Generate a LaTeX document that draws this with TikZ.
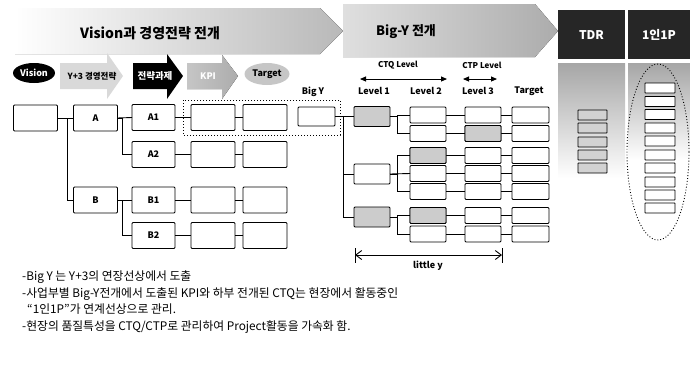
\documentclass[tikz,border=0pt]{standalone}
\usepackage{fontspec}
\setmainfont{Noto Sans CJK KR}
\usetikzlibrary{shapes.geometric,arrows.meta,calc}
\begin{document}
\begin{tikzpicture}[x=1pt,y=-1pt,
 bx/.style={draw,line width=0.9pt,rounded corners=1pt,minimum width=44pt,minimum height=26pt,inner sep=0pt,outer sep=0pt,fill=white,font=\bfseries\fontsize{9}{10}\selectfont},
 lv/.style={bx,minimum width=36pt,minimum height=16pt},
 l1/.style={bx,minimum width=36pt,minimum height=20pt},
 sh/.style={fill=gray!40},
 tb/.style={draw,line width=0.8pt,rounded corners=0.5pt,minimum width=29pt,minimum height=10pt,inner sep=0pt,fill=gray!35},
 pb/.style={draw,line width=0.8pt,rounded corners=0.5pt,minimum width=30pt,minimum height=10pt,inner sep=0pt,fill=white},
 ln/.style={line width=0.9pt},
 hd/.style={font=\bfseries\fontsize{9}{10}\selectfont,inner sep=0pt},
 bt/.style={anchor=base west,inner sep=0pt,font=\fontsize{11.8}{13}\selectfont},
]
\useasboundingbox (0,0) rectangle (690,365);

% banners
\fill[left color=white,right color=gray!55] (15,8) -- (320,8) -- (343,31) -- (320,54) -- (15,54) -- cycle;
\fill[left color=gray!25,right color=gray!65] (343,4) -- (535,4) -- (558,31) -- (535,57) -- (343,57) -- cycle;
\node[font=\bfseries\fontsize{14}{16}\selectfont] (ban1) at (150,33) {Vision과 경영전략 전개};
\node[font=\bfseries\fontsize{13}{15}\selectfont] (ban2) at (406,32) {Big-Y 전개};

% TDR / 1인1P columns
\fill[top color=gray!70,bottom color=white] (558,63) rectangle (625,178);
\fill[top color=gray!70,bottom color=white] (628,63) rectangle (690,160);
\fill[black!85] (558,10) rectangle (625,59);
\fill[black!85] (628,10) rectangle (690,59);
\node[font=\bfseries\fontsize{12}{13}\selectfont,text=white] (tdr) at (591.5,35) {TDR};
\node[font=\bfseries\fontsize{12}{13}\selectfont,text=white] (ip) at (659,35) {1인1P};
\draw[dotted,line width=0.9pt] (658,152) ellipse [x radius=31,y radius=88];
\foreach \i/\yy in {1/115,2/128,3/142,4/155,5/168}{\node[tb] (td\i) at (592.5,\yy) {};}
\foreach \i/\yy in {1/88,2/101.5,3/114.5,4/128,5/141,6/155,7/168,8/182,9/195,10/208}{\node[pb] (pp\i) at (660,\yy) {};}

% top process arrows
\node[ellipse,fill=black,minimum width=42pt,minimum height=20pt,inner sep=0pt,text=white,font=\bfseries\fontsize{9}{10}\selectfont] (vis) at (34,73) {Vision};
\fill[gray!30] (60,63) -- (107,63) -- (107,53) -- (123,76) -- (107,99) -- (107,89) -- (60,89) -- cycle;
\node[font=\bfseries\fontsize{8.5}{9}\selectfont] (y3) at (92,76) {Y+3 경영전략};
\fill[black] (133,63) -- (167,63) -- (167,54) -- (183,76) -- (167,99) -- (167,89) -- (133,89) -- cycle;
\node[font=\bfseries\fontsize{9.5}{10}\selectfont,text=white] (jg) at (155,76) {전략과제};
\fill[left color=gray!45,right color=gray!65] (187,63) -- (222,63) -- (222,55) -- (238,76) -- (222,99) -- (222,89) -- (187,89) -- cycle;
\node[font=\bfseries\fontsize{9}{10}\selectfont,text=white] (kpi) at (208,76) {KPI};
\node[ellipse,fill=gray!45,minimum width=45pt,minimum height=22pt,inner sep=0pt,font=\bfseries\fontsize{9}{10}\selectfont] (tg) at (267,74) {Target};

% headers
\node[hd] (hby) at (313,92) {Big Y};
\node[hd] (hl1) at (374,91) {Level 1};
\node[hd] (hl2) at (426,91) {Level 2};
\node[hd] (hl3) at (478,91) {Level 3};
\node[hd] (htg) at (529,91) {Target};
\node[hd,font=\bfseries\fontsize{8}{9}\selectfont] (ctq) at (398,65) {CTQ Level};
\node[hd,font=\bfseries\fontsize{8}{9}\selectfont] (ctp) at (482,65) {CTP Level};
\coordinate (cq1) at (360,79); \coordinate (cq2) at (447,79);
\coordinate (cp1) at (463,79); \coordinate (cp2) at (497,79);
\draw[ln,{Triangle[length=6pt,width=5pt]}-{Triangle[length=6pt,width=5pt]}] (cq1) -- (cq2);
\draw[ln,{Triangle[length=6pt,width=5pt]}-{Triangle[length=6pt,width=5pt]}] (cp1) -- (cp2);

% dotted frame
\draw[dotted,line width=1pt] (183,100) rectangle (340,135);

% left tree
\node[bx] (b0) at (35.5,118) {};
\node[bx] (A) at (95.5,118) {A};
\node[bx,minimum width=43pt] (A1) at (153.5,117.5) {A1};
\node[bx,minimum width=43pt] (A2) at (153.5,154.5) {A2};
\node[bx] (B) at (95.5,200) {B};
\node[bx,minimum width=43pt] (B1) at (153.5,200) {B1};
\node[bx,minimum width=43pt] (B2) at (153.5,235.5) {B2};
\foreach \n/\yy in {A1/117.5,A2/154.5,B1/200,B2/235.5}{
  \node[bx] (\n a) at (213,\yy) {};
  \node[bx] (\n b) at (265,\yy) {};
  \draw[ln] (\n.east) -- (\n a.west);
  \draw[ln] (\n a.east) -- (\n b.west);
}
\draw[ln] (b0.east) -- (A.west);
\draw[ln] (b0.east) -- ++(10,0) |- (B.west);
\draw[ln] (A.east) -- (A1.west);
\draw[ln] (A.east) -- ++(5,0) |- (A2.west);
\draw[ln] (B.east) -- (B1.west);
\draw[ln] (B.east) -- ++(5,0) |- (B2.west);

% Big Y tree
\node[bx,minimum width=37pt,minimum height=19pt] (BY) at (316.5,116.5) {};
\node[l1,sh] (L1a) at (372,116.5) {};
\node[l1] (L1b) at (372,174) {};
\node[l1,sh] (L1c) at (372,217) {};
\draw[ln] (BY.east) -- (L1a.west);
\draw[ln] (BY.east) -- ++(8,0) |- (L1b.west);
\draw[ln] (BY.east) -- ++(8,0) |- (L1c.west);
\foreach \r/\yy in {1/115,2/133.5,3/155.5,4/173.5,5/191.5,6/215.5,7/234}{
  \node[lv] (Lb\r) at (428,\yy) {};
  \node[lv] (Lc\r) at (483,\yy) {};
  \node[lv,minimum width=37pt] (Ld\r) at (530.5,\yy) {};
  \draw[ln] (Lb\r.east) -- (Lc\r.west);
  \draw[ln] (Lc\r.east) -- (Ld\r.west);
}
\node[lv,sh] at (Lb3) {};
\node[lv,sh] at (Lb6) {};
\node[lv,sh] at (Lc2) {};
\draw[ln] (L1a.east) -- ++(7,0) |- (Lb1.west);
\draw[ln] (L1a.east) -- ++(7,0) |- (Lb2.west);
\draw[ln] (L1b.east) -- ++(7,0) |- (Lb3.west);
\draw[ln] (L1b.east) -- (Lb4.west);
\draw[ln] (L1b.east) -- ++(7,0) |- (Lb5.west);
\draw[ln] (L1c.east) -- ++(7,0) |- (Lb6.west);
\draw[ln] (L1c.east) -- ++(7,0) |- (Lb7.west);

% little y
\coordinate (ly1) at (355,255); \coordinate (ly2) at (502,255);
\draw[ln] ($(ly1)+(0,-7)$) -- ($(ly1)+(0,8)$);
\draw[ln] ($(ly2)+(0,-7)$) -- ($(ly2)+(0,8)$);
\draw[ln,{Straight Barb[length=6pt,width=9pt]}-{Straight Barb[length=6pt,width=9pt]}] (ly1) -- (ly2);
\node[hd] (lyt) at (428,266) {little y};

% bottom text
\node[bt] (t1) at (22,280.5) {-Big Y 는 Y+3의 연장선상에서 도출};
\node[bt] (t2) at (22,297) {-사업부별 Big-Y전개에서 도출된 KPI와 하부 전개된 CTQ는 현장에서 활동중인};
\node[bt] (t3) at (27,313) {“1인1P”가 연계선상으로 관리.};
\node[bt] (t4) at (22,330) {-현장의 품질특성을 CTQ/CTP로 관리하여 Project활동을 가속화 함.};
\end{tikzpicture}
\end{document}
